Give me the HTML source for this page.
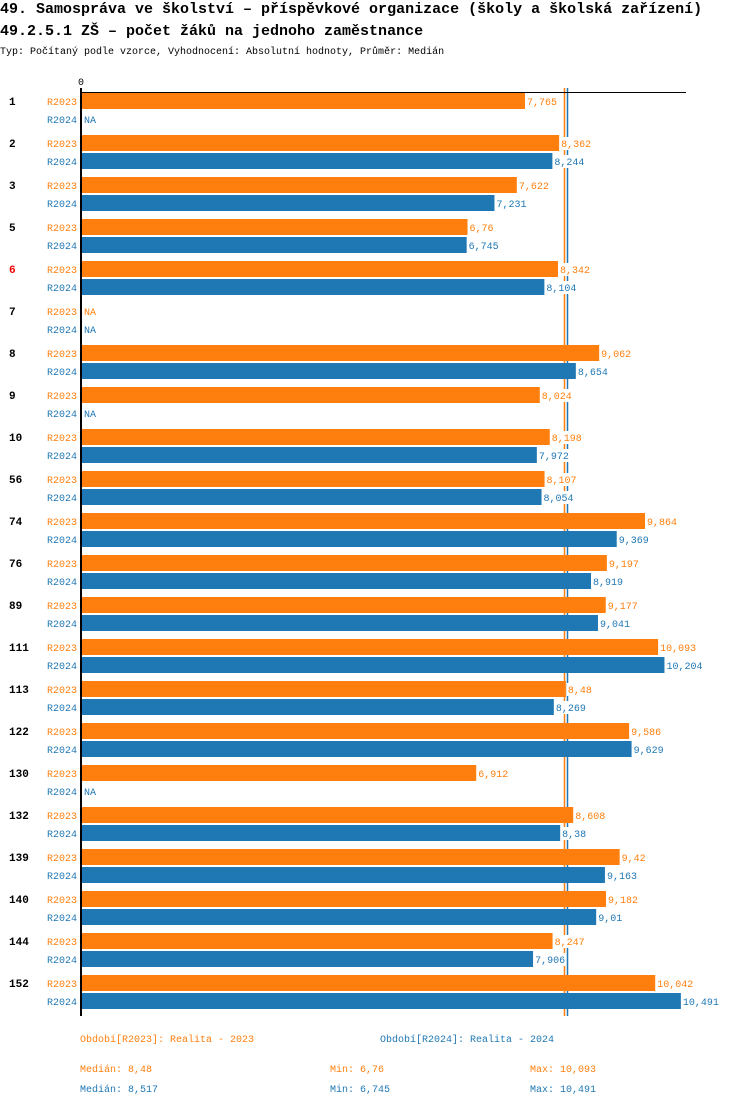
<!DOCTYPE html>
<html><head><meta charset="utf-8">
<style>
body{margin:0;background:#fff;font-family:"Liberation Mono",monospace;}
svg text{font-family:"Liberation Mono",monospace;}
</style></head>
<body>
<svg id="chart" width="750" height="1106" xmlns="http://www.w3.org/2000/svg">
<text x="0" y="13" font-size="15" font-weight="bold" fill="#000">49. Samospráva ve školství – příspěvkové organizace (školy a školská zařízení)</text>
<text x="0" y="35" font-size="15" font-weight="bold" fill="#000">49.2.5.1 ZŠ – počet žáků na jednoho zaměstnance</text>
<text x="0" y="54" font-size="10" fill="#000">Typ: Počítaný podle vzorce, Vyhodnocení: Absolutní hodnoty, Průměr: Medián</text>
<text x="78" y="85" font-size="10" fill="#000">0</text>
<line x1="564.5" y1="88" x2="564.5" y2="1016" stroke="#ff7f0e" stroke-width="1.5"/>
<line x1="567.5" y1="88" x2="567.5" y2="1016" stroke="#1f77b4" stroke-width="1.5"/>
<g id="bars"></g>
<line x1="81" y1="88" x2="81" y2="1016" stroke="#000" stroke-width="2"/>
<line x1="80" y1="92.5" x2="686" y2="92.5" stroke="#000" stroke-width="1"/>
<text x="80" y="1042" font-size="10" fill="#ff7f0e">Období[R2023]: Realita - 2023</text>
<text x="380" y="1042" font-size="10" fill="#1f77b4">Období[R2024]: Realita - 2024</text>
<text x="80" y="1072" font-size="10" fill="#ff7f0e">Medián: 8,48</text>
<text x="330" y="1072" font-size="10" fill="#ff7f0e">Min: 6,76</text>
<text x="530" y="1072" font-size="10" fill="#ff7f0e">Max: 10,093</text>
<text x="80" y="1092" font-size="10" fill="#1f77b4">Medián: 8,517</text>
<text x="330" y="1092" font-size="10" fill="#1f77b4">Min: 6,745</text>
<text x="530" y="1092" font-size="10" fill="#1f77b4">Max: 10,491</text>
</svg>
<script>
const categories=["1","2","3","5","6","7","8","9","10","56","74","76","89","111","113","122","130","132","139","140","144","152"];
const values2023=[7.765,8.362,7.622,6.76,8.342,null,9.062,8.024,8.198,8.107,9.864,9.197,9.177,10.093,8.48,9.586,6.912,8.608,9.42,9.182,8.247,10.042];
const values2024=[null,8.244,7.231,6.745,8.104,null,8.654,null,7.972,8.054,9.369,8.919,9.041,10.204,8.269,9.629,null,8.38,9.163,9.01,7.906,10.491];
const highlighted=["6"];
const seriesNames=["R2023","R2024"];
const colors=["#ff7f0e","#1f77b4"];
const NS="http://www.w3.org/2000/svg";
const x0=81, scale=57.18, top0=93, groupH=42;
function xs(v){return x0+v*scale;}
function fmt(v){return String(v).replace('.',',');}
const g=document.getElementById('bars');
function mk(tag,attrs,txt){const e=document.createElementNS(NS,tag);for(const k in attrs)e.setAttribute(k,attrs[k]);if(txt!==undefined)e.textContent=txt;g.appendChild(e);return e;}
categories.forEach((c,i)=>{
  const y=top0+i*groupH;
  const lab=mk('text',{x:9,y:y+12,'font-size':11,'font-weight':'bold',fill:highlighted.includes(c)?'#e00':'#000'},c);
  
  
  [values2023,values2024].forEach((arr,s)=>{
    const yy=y+s*18, v=arr[i];
    const sl=mk('text',{x:47,y:yy+12,'font-size':10,fill:colors[s]},seriesNames[s]);
    
    
    if(v==null){
      const na=mk('text',{x:84,y:yy+12,'font-size':10,fill:colors[s]},'NA');
      
      
    }else{
      const r=mk('rect',{x:x0,y:yy,width:xs(v)-x0,height:16,fill:colors[s]});
      
      
      const label=fmt(v);
      const bg=mk('rect',{x:xs(v)+1,y:yy+2,width:label.length*6+2,height:13,fill:'#fff'});
      
      
      const t=mk('text',{x:xs(v)+2,y:yy+12,'font-size':10,fill:colors[s]},label);
      
      
    }
  });
});
</script>
</body></html>
